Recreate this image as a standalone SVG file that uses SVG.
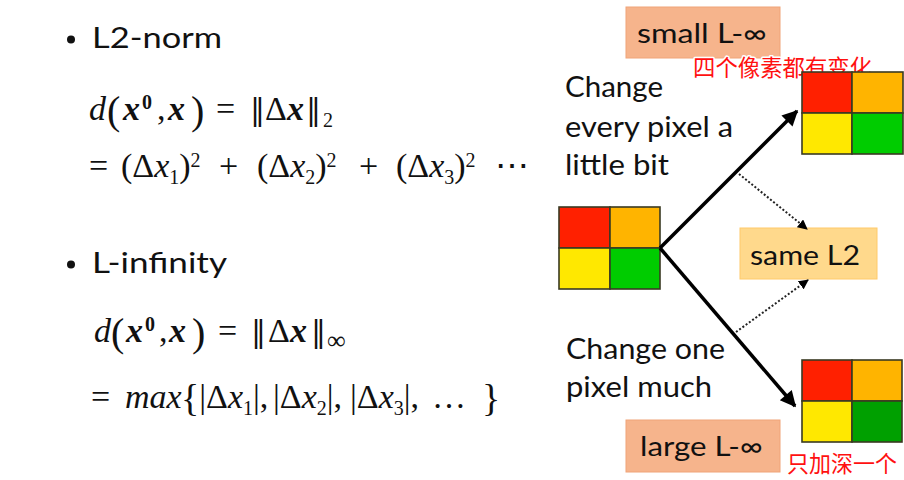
<svg xmlns="http://www.w3.org/2000/svg" width="904" height="480" viewBox="0 0 904 480">
<defs>
<style>
.t{font-family:Lato,"Open Sans","Liberation Sans",sans-serif;fill:#111;}
.m{font-family:"Liberation Serif","DejaVu Serif",serif;fill:#111;font-size:34px;}
.i{font-style:italic;}
.b{font-weight:bold;font-style:italic;}
.n{font-family:"DejaVu Serif",serif;font-size:30px;}
.cn{font-family:"Noto Sans CJK SC",sans-serif;font-size:23px;fill:#ff1010;stroke:#fff;stroke-width:3px;paint-order:stroke;stroke-linejoin:round;}
.cell{stroke:#3a3a22;stroke-width:1.6;}
.thick{stroke:#000;stroke-width:3.5;fill:none;}
.dot{stroke:#222;stroke-width:2;stroke-dasharray:2 2;fill:none;}
</style>
<marker id="ah" viewBox="0 0 10 10" refX="9" refY="5" markerWidth="5" markerHeight="4.5" orient="auto" markerUnits="strokeWidth">
<path d="M0,0 L10,5 L0,10 z" fill="#000"/>
</marker>
<marker id="ahs" viewBox="0 0 10 10" refX="9" refY="5" markerWidth="5" markerHeight="5" orient="auto" markerUnits="strokeWidth">
<path d="M0,0 L10,5 L0,10 z" fill="#000"/>
</marker>
</defs>
<rect width="904" height="480" fill="#fff"/>

<g id="l2-heading">
<circle cx="71" cy="39.5" r="4" fill="#111"/>
<text class="t" x="92" y="48" font-size="29" textLength="130" lengthAdjust="spacingAndGlyphs">L2-norm</text>
</g>

<g id="l2-formula">
<text class="m" y="120"><tspan class="i" x="89">d</tspan><tspan x="107" y="124" font-size="40">(</tspan><tspan class="b" x="123" y="120">x</tspan><tspan x="142" y="109" font-size="20" font-weight="bold">0</tspan><tspan x="157" y="120">,</tspan><tspan class="b" x="168">x</tspan><tspan x="191" y="124" font-size="40">)</tspan><tspan x="216" y="120">=</tspan><tspan class="n" x="250">‖</tspan><tspan x="265">Δ</tspan><tspan class="b">x</tspan><tspan class="n" x="306">‖</tspan><tspan x="323" y="127" font-size="20">2</tspan></text>
<text class="m" y="177"><tspan x="89">=</tspan><tspan x="121">(Δ</tspan><tspan class="i">x</tspan><tspan y="184" font-size="20">1</tspan><tspan y="177">)</tspan><tspan y="167" font-size="20">2</tspan><tspan x="219" y="177">+</tspan><tspan x="257">(Δ</tspan><tspan class="i">x</tspan><tspan y="184" font-size="20">2</tspan><tspan y="177">)</tspan><tspan y="167" font-size="20">2</tspan><tspan x="359" y="177">+</tspan><tspan x="396">(Δ</tspan><tspan class="i">x</tspan><tspan y="184" font-size="20">3</tspan><tspan y="177">)</tspan><tspan y="167" font-size="20">2</tspan><tspan x="495" y="177">⋯</tspan></text>
</g>

<g id="linf-heading">
<circle cx="71" cy="264.5" r="4" fill="#111"/>
<text class="t" x="92" y="273" font-size="29" textLength="135" lengthAdjust="spacingAndGlyphs">L-infinity</text>
</g>

<g id="linf-formula">
<text class="m" y="342"><tspan class="i" x="94">d</tspan><tspan x="111" y="346" font-size="40">(</tspan><tspan class="b" x="126" y="342">x</tspan><tspan x="145" y="331" font-size="20" font-weight="bold">0</tspan><tspan x="159" y="342">,</tspan><tspan class="b" x="169">x</tspan><tspan x="192" y="346" font-size="40">)</tspan><tspan x="218" y="342">=</tspan><tspan class="n" x="251">‖</tspan><tspan x="268">Δ</tspan><tspan class="b">x</tspan><tspan class="n" x="311">‖</tspan><tspan x="327" y="349" font-size="26">∞</tspan></text>
<text class="m" y="408"><tspan x="91">=</tspan><tspan class="i" x="125">max</tspan><tspan x="181" y="411" font-size="38">{</tspan><tspan y="408">|Δ</tspan><tspan class="i">x</tspan><tspan y="415" font-size="20">1</tspan><tspan y="408">|,</tspan><tspan x="273">|Δ</tspan><tspan class="i">x</tspan><tspan y="415" font-size="20">2</tspan><tspan y="408">|,</tspan><tspan x="350">|Δ</tspan><tspan class="i">x</tspan><tspan y="415" font-size="20">3</tspan><tspan y="408">|,</tspan><tspan x="432">…</tspan><tspan x="482" y="411" font-size="38">}</tspan></text>
</g>

<g id="small-linf">
<rect x="626" y="7" width="154" height="51" fill="#f6b48c" stroke="#f0a478" stroke-width="1"/>
<text class="t" x="637" y="43" font-size="27" textLength="130" lengthAdjust="spacingAndGlyphs">small L-∞</text>
</g>

<g id="note-top">
<text class="cn" x="693" y="76" textLength="179" lengthAdjust="spacingAndGlyphs">四个像素都有变化</text>
</g>

<g id="label-top">
<text class="t" font-size="28">
<tspan x="565" y="97" textLength="98" lengthAdjust="spacingAndGlyphs">Change</tspan>
<tspan x="565" y="137" textLength="168" lengthAdjust="spacingAndGlyphs">every pixel a</tspan>
<tspan x="565" y="175" textLength="104" lengthAdjust="spacingAndGlyphs">little bit</tspan>
</text>
</g>

<g id="grid-original">
<rect class="cell" x="559" y="207" width="51" height="41" fill="#ff2000"/>
<rect class="cell" x="610" y="207" width="50" height="41" fill="#ffb400"/>
<rect class="cell" x="559" y="248" width="51" height="41" fill="#ffe800"/>
<rect class="cell" x="610" y="248" width="50" height="41" fill="#00cc00"/>
</g>

<g id="grid-top">
<rect class="cell" x="802" y="72" width="50" height="41" fill="#ff2000"/>
<rect class="cell" x="852" y="72" width="51" height="41" fill="#ffb400"/>
<rect class="cell" x="802" y="113" width="50" height="41" fill="#ffe800"/>
<rect class="cell" x="852" y="113" width="51" height="41" fill="#00cc00"/>
</g>

<g id="same-l2">
<rect x="740" y="228" width="137" height="51" fill="#ffd98c" stroke="#ffca6a" stroke-width="1"/>
<text class="t" x="750" y="265" font-size="27" textLength="110" lengthAdjust="spacingAndGlyphs">same L2</text>
</g>

<g id="label-bottom">
<text class="t" font-size="28">
<tspan x="566" y="359" textLength="159" lengthAdjust="spacingAndGlyphs">Change one</tspan>
<tspan x="566" y="397" textLength="146" lengthAdjust="spacingAndGlyphs">pixel much</tspan>
</text>
</g>

<g id="grid-bottom">
<rect class="cell" x="802" y="360" width="50" height="41" fill="#ff2000"/>
<rect class="cell" x="852" y="360" width="50" height="41" fill="#ffb400"/>
<rect class="cell" x="802" y="401" width="50" height="41" fill="#ffe800"/>
<rect class="cell" x="852" y="401" width="50" height="41" fill="#00a000"/>
</g>

<g id="large-linf">
<rect x="626" y="420" width="154" height="52" fill="#f6b48c" stroke="#f0a478" stroke-width="1"/>
<text class="t" x="640" y="456" font-size="27" textLength="123" lengthAdjust="spacingAndGlyphs">large L-∞</text>
</g>

<g id="note-bottom">
<text class="cn" x="787" y="472" textLength="110" lengthAdjust="spacingAndGlyphs">只加深一个</text>
</g>

<g id="connectors">
<line class="thick" x1="660" y1="248" x2="797" y2="111" marker-end="url(#ah)"/>
<line class="thick" x1="660" y1="248" x2="795" y2="406" marker-end="url(#ah)"/>
<line class="dot" x1="739" y1="174" x2="807" y2="229" marker-end="url(#ahs)"/>
<line class="dot" x1="736" y1="332" x2="808" y2="280" marker-end="url(#ahs)"/>
</g>
</svg>
